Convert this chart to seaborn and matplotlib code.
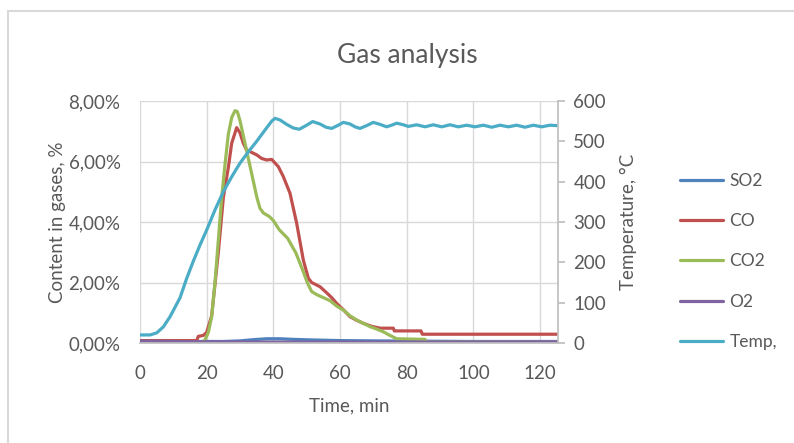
import numpy as np
import pandas as pd
import seaborn as sns
import matplotlib.pyplot as plt
from matplotlib.lines import Line2D
from matplotlib.patches import Rectangle
from matplotlib.ticker import FuncFormatter

sns.set_theme(style="white")
plt.rcParams['font.family'] = ['Lato', 'DejaVu Sans']
grey = '#595959'

# gas contents, %
so2_t = [0, 25, 30, 34, 38, 42, 46, 52, 60, 70, 85, 100, 125]
so2_v = [0.05, 0.05, 0.07, 0.11, 0.14, 0.14, 0.12, 0.10, 0.08, 0.07, 0.06, 0.05, 0.05]

co_t = [0, 17, 17.5, 19, 20, 21.5, 23.5, 25, 26.5, 27.5, 29, 30, 31, 32, 33.5, 35, 36.5, 38,
        39.5, 41.5, 43, 45, 47, 49, 50.5, 51.5, 54, 56, 57.5, 59, 61, 63, 65, 67, 69.5, 72,
        76, 76.3, 84.3, 84.7, 125]
co_v = [0.08, 0.08, 0.22, 0.25, 0.35, 0.9, 3.0, 4.8, 5.8, 6.6, 7.12, 6.95, 6.6, 6.38, 6.3,
        6.22, 6.1, 6.05, 6.07, 5.83, 5.5, 4.95, 3.96, 2.74, 2.14, 2.0, 1.86, 1.66, 1.5, 1.31,
        1.1, 0.87, 0.75, 0.65, 0.55, 0.49, 0.49, 0.40, 0.40, 0.29, 0.29]

co2_t = [0, 18.5, 19.5, 20.5, 21.5, 22.5, 23.5, 24.5, 25.5, 26.5, 27.5, 28.5, 29.2, 30, 31.5,
         33.5, 35, 36, 37, 38.8, 40, 41.8, 44.3, 46.8, 48.8, 50.3, 51.5, 53, 55, 57, 59, 61,
         63, 65, 67, 69, 71, 73, 75, 77, 85.5, 86, 125]
co2_v = [0.02, 0.02, 0.1, 0.35, 0.87, 2.0, 3.4, 4.8, 5.9, 6.9, 7.45, 7.68, 7.65, 7.35, 6.6,
         5.6, 4.84, 4.45, 4.3, 4.18, 4.05, 3.74, 3.46, 2.97, 2.41, 1.97, 1.7, 1.6, 1.5, 1.4,
         1.22, 1.09, 0.9, 0.76, 0.65, 0.54, 0.46, 0.37, 0.25, 0.14, 0.12, 0.03, 0.03]

o2_t = [0, 20, 40, 60, 80, 100, 125]
o2_v = [0.06, 0.04, 0.03, 0.03, 0.03, 0.03, 0.04]

# temperature, C
temp_t = [0, 3, 5, 7, 9, 12, 14, 16, 18, 20, 22.5, 25, 27.5, 30, 32.5, 35, 37.5, 39.5, 40.5,
          42, 44, 46, 47.8, 50, 51.8, 54, 55.8, 57.5, 59.5, 61, 63, 64.5, 66, 68, 70, 72, 74,
          75.5, 77, 79, 80.5, 83, 85.5, 88, 90.5, 93, 95.5, 98, 100.5, 103, 105.5, 108, 110.5,
          113, 115.5, 118, 120.5, 123, 125]
temp_v = [20, 20, 25, 40, 65, 112, 160, 203, 243, 280, 330, 375, 412, 446, 474, 500, 528, 550,
          557, 553, 542, 533, 530, 540, 549, 543, 535, 532, 540, 547, 543, 536, 532, 539, 547,
          542, 536, 540, 545, 541, 537, 541, 536, 541, 536, 541, 536, 540, 536, 540, 535, 540,
          536, 540, 535, 540, 536, 540, 539]

gas_order = ['SO2', 'CO', 'CO2', 'O2']
colors = {'SO2': '#4F81BD', 'CO': '#C0504D', 'CO2': '#9BBB59', 'O2': '#8064A2',
          'Temp,': '#4BACC6'}

gases = pd.concat([
    pd.DataFrame({'time': so2_t, 'value': so2_v, 'gas': 'SO2'}),
    pd.DataFrame({'time': co_t, 'value': co_v, 'gas': 'CO'}),
    pd.DataFrame({'time': co2_t, 'value': co2_v, 'gas': 'CO2'}),
    pd.DataFrame({'time': o2_t, 'value': o2_v, 'gas': 'O2'}),
], ignore_index=True)

W, H = 794, 443
fig = plt.figure(figsize=(W / 100, H / 100), dpi=100)
fig.patches.append(Rectangle((8 / W, -0.1), 1.2, 1 - 11 / H + 0.1, transform=fig.transFigure,
                             fill=False, edgecolor='#d9d9d9', lw=1.5))

ax = fig.add_axes([140 / W, 1 - 343 / H, 418 / W, 242 / H])
sns.lineplot(data=gases, x='time', y='value', hue='gas', hue_order=gas_order, palette=colors,
             lw=2.3, ax=ax, legend=False, estimator=None)
ax2 = ax.twinx()
sns.lineplot(x=temp_t, y=temp_v, color=colors['Temp,'], lw=2.3, ax=ax2, estimator=None)

ax.set_xlim(0, 125.4)
ax.set_ylim(0, 8)
ax2.set_ylim(0, 600)
ax.set_xticks(range(0, 121, 20))
ax.set_yticks([0, 2, 4, 6, 8])
ax2.set_yticks(range(0, 601, 100))
ax.yaxis.set_major_formatter(FuncFormatter(lambda v, p: f"{v:.2f}%".replace('.', ',')))

ax.grid(True, color='#d9d9d9', lw=1)
ax.set_axisbelow(True)
for s in ['left', 'top', 'right']:
    ax.spines[s].set_visible(False)
ax.spines['bottom'].set_color('#bfbfbf')
for s in ['left', 'top', 'bottom']:
    ax2.spines[s].set_visible(False)
ax2.spines['right'].set_color('#bfbfbf')

ax.tick_params(axis='both', length=0, labelsize=13.5, labelcolor=grey)
ax.tick_params(axis='x', pad=16)
ax.tick_params(axis='y', pad=14)
ax2.tick_params(axis='y', length=5, color='#bfbfbf', labelsize=13.5, labelcolor=grey, pad=6)

ax.set_xlabel('Time, min', fontsize=13.5, color=grey, labelpad=11)
ax.set_ylabel('Content in gases, %', fontsize=13.5, color=grey, labelpad=2)
ax2.set_ylabel('Temperature, °C', fontsize=13.5, color=grey, labelpad=10)

fig.text(407.5 / W, 1 - 63 / H, 'Gas analysis', fontsize=19, color=grey, ha='center',
         va='baseline')

labels = gas_order + ['Temp,']
handles = [Line2D([], [], color=colors[k], lw=2.3) for k in labels]
fig.legend(handles, labels, loc='center left', bbox_to_anchor=(680 / W, 1 - 261.5 / H),
           frameon=False, borderpad=0, borderaxespad=0, handlelength=2.5, handletextpad=0.35,
           labelspacing=1.4, fontsize=12.5, labelcolor=grey)

fig.savefig('out.png', dpi=100)
